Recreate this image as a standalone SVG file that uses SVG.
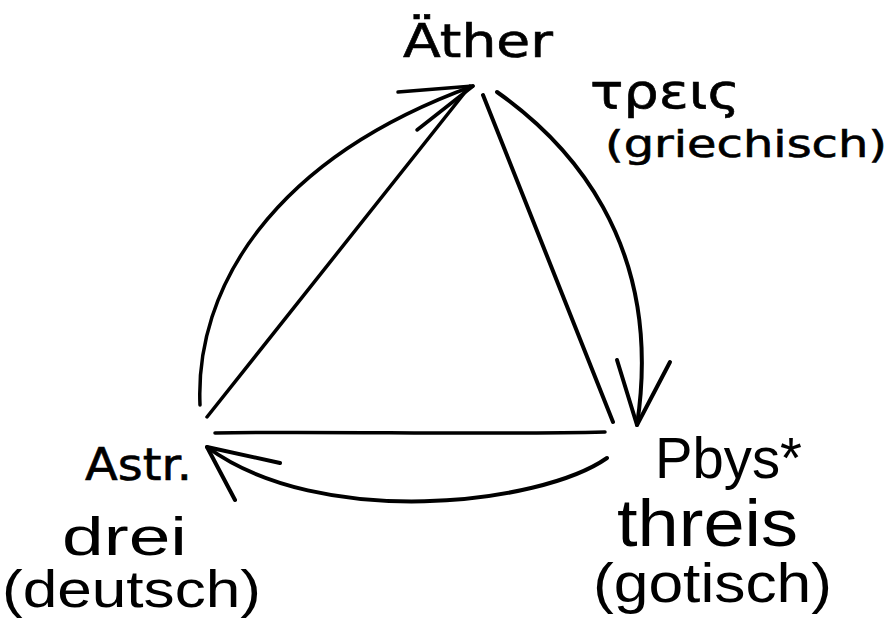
<svg xmlns="http://www.w3.org/2000/svg" width="892" height="621" viewBox="0 0 892 621">
<style>
.ink{fill:none;stroke:#000;stroke-width:4;stroke-linecap:round;stroke-linejoin:round}
.thin{stroke-width:3.5}
.hand{font-family:"DejaVu Sans","Liberation Sans",sans-serif;fill:#000;stroke:#000;stroke-width:0.6}
.print{font-family:"Liberation Sans",Arial,sans-serif;fill:#000}
</style>
<rect width="892" height="621" fill="#fff"/>
<g id="connectors">
  <path class="ink thin" d="M207,417 L470,86"/>
  <path class="ink" d="M483,95 L613,422"/>
  <path class="ink thin" d="M215,433 C330,431 480,435 605,432"/>
  <path class="ink thin" d="M200,405 C195,290 270,160 473,86"/>
  <path class="ink thin" d="M398,92 L473,86 L417,130"/>
  <path class="ink" d="M497,92 C565,140 665,240 637,425"/>
  <path class="ink" d="M617,360 L637,425 L670,362"/>
  <path class="ink" d="M607,458 C540,505 320,530 207,447"/>
  <path class="ink" d="M280,463 L207,447 L235,500"/>
</g>
<g id="node-aether">
  <text class="hand" x="403" y="57" font-size="46" textLength="150" lengthAdjust="spacingAndGlyphs">Äther</text>
</g>
<g id="label-greek">
  <text class="hand" x="590" y="108" font-size="48" textLength="150" lengthAdjust="spacingAndGlyphs">τρεις</text>
  <text class="hand" x="605" y="157" font-size="38" textLength="282" lengthAdjust="spacingAndGlyphs">(griechisch)</text>
</g>
<g id="node-astr">
  <text class="hand" x="85" y="480" font-size="44" textLength="107" lengthAdjust="spacingAndGlyphs">Astr.</text>
  <text class="print" x="62" y="555" font-size="54" textLength="125" lengthAdjust="spacingAndGlyphs">drei</text>
  <text class="print" x="2" y="607" font-size="52" textLength="259" lengthAdjust="spacingAndGlyphs">(deutsch)</text>
</g>
<g id="node-pbys">
  <text class="print" x="655" y="478" font-size="58" textLength="147" lengthAdjust="spacingAndGlyphs">Pbys*</text>
  <text class="print" x="617" y="546" font-size="67" textLength="181" lengthAdjust="spacingAndGlyphs">threis</text>
  <text class="print" x="593" y="602" font-size="56" textLength="239" lengthAdjust="spacingAndGlyphs">(gotisch)</text>
</g>
</svg>
